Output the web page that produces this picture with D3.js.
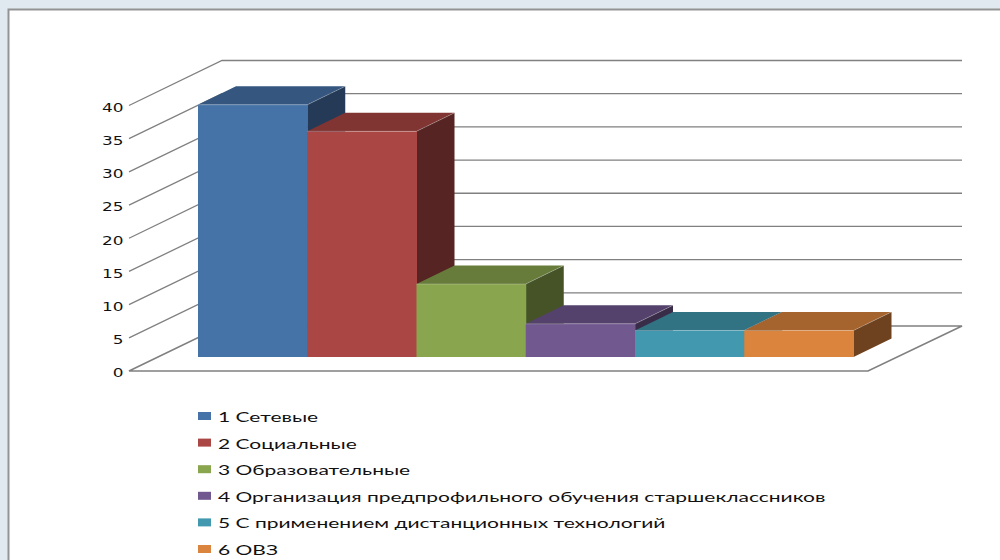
<!DOCTYPE html>
<html>
<head>
<meta charset="utf-8">
<script src="https://cdn.jsdelivr.net/npm/d3@7"></script>
<style>
  html, body { margin: 0; padding: 0; background: #dfe9ef; }
  svg { display: block; }
</style>
</head>
<body>
<svg></svg>
<script>
const categories = ["1 Сетевые", "2 Социальные", "3 Образовательные",
  "4 Организация предпрофильного обучения старшеклассников",
  "5 С применением дистанционных технологий", "6 ОВЗ"];
const values = [38, 34, 11, 5, 4, 4];
const yTicks = [0, 5, 10, 15, 20, 25, 30, 35, 40];
const frontColors = ["#4573a7", "#aa4644", "#89a54e", "#71588f", "#4198af", "#db843d"];
const topColors = ["#34567f", "#803533", "#677c3b", "#55426c", "#317283", "#a5632e"];
const sideColors = ["#253a57", "#562422", "#455327", "#392c48", "#214c58", "#6e421f"];

const width = 1000, height = 560;
const wall = { dx: 93, dy: -45, x0: 129, x1: 868 };
const barDepth = { dx: 38, dy: -18.5 };
const barLift = 14;

const svg = d3.select("svg").attr("width", width).attr("height", height);

// slide panel
svg.append("rect").attr("x", 8.5).attr("y", 9.5).attr("width", 1000).attr("height", 560)
  .attr("fill", "#fff").attr("stroke", "#939393").attr("stroke-width", 2);

const x = d3.scaleBand().domain(categories).range([198, 853.5]);
const y = d3.scaleLinear().domain([0, 40]).range([371, 105.5]);
const legendY = d3.scalePoint().domain(categories).range([416, 549]);

// gridlines on both walls
const grid = svg.append("g").attr("fill", "none").attr("stroke", "#808080").attr("stroke-width", 1.3);
grid.selectAll("path").data(yTicks.filter(d => d > 0)).join("path")
  .attr("d", d => `M${wall.x0},${y(d)}L${wall.x0 + wall.dx},${y(d) + wall.dy}H${wall.x1 + wall.dx + 1}`);

// floor
grid.append("path").attr("stroke-width", 1.6)
  .attr("d", `M${wall.x0},${y(0)}L${wall.x0 + wall.dx},${y(0) + wall.dy}H${wall.x1 + wall.dx + 1}L${wall.x1},${y(0)}Z`);

// bars, left to right so each one covers the side of the previous one
const bars = svg.append("g").selectAll("g").data(categories).join("g");
const x0 = d => x(d);
const x1 = d => x(d) + x.bandwidth();
const base = y(0) - barLift;
const topY = (d, i) => base - (y(0) - y(values[i]));

bars.append("path").attr("fill", (d, i) => topColors[i])
  .attr("d", (d, i) => `M${x0(d)},${topY(d, i)}l${barDepth.dx},${barDepth.dy}H${x1(d) + barDepth.dx}L${x1(d)},${topY(d, i)}Z`);
bars.append("path").attr("fill", (d, i) => sideColors[i])
  .attr("d", (d, i) => `M${x1(d)},${topY(d, i)}l${barDepth.dx},${barDepth.dy}V${base + barDepth.dy}L${x1(d)},${base}Z`);
bars.append("rect").attr("fill", (d, i) => frontColors[i])
  .attr("x", x0).attr("y", topY)
  .attr("width", x.bandwidth() + 0.5).attr("height", (d, i) => base - topY(d, i));
// faint light edges along the top of each bar
bars.append("path").attr("fill", "none").attr("stroke", "#fff").attr("stroke-opacity", 0.3).attr("stroke-width", 0.8)
  .attr("d", (d, i) => `M${x0(d)},${topY(d, i)}H${x1(d)}l${barDepth.dx},${barDepth.dy}`);

// y axis labels
const axis = svg.append("g").attr("transform", "translate(123.5,0)")
  .call(d3.axisLeft(y).tickValues(yTicks).tickSize(0).tickPadding(0));
axis.select(".domain").remove();
axis.selectAll("text")
  .attr("x", 0).attr("dy", "0.45em")
  .attr("transform", "scale(1.3,1)")
  .attr("font-family", "DejaVu Sans").attr("font-size", 13).attr("fill", "#111");

// legend
const legend = svg.append("g").selectAll("g").data(categories).join("g")
  .attr("transform", d => `translate(198,${legendY(d)})`);
legend.append("rect").attr("y", -4).attr("width", 13).attr("height", 8)
  .attr("fill", (d, i) => frontColors[i]);
legend.append("text").text(d => d)
  .attr("transform", "translate(20,0.7) scale(1.5,1)")
  .attr("dy", "0.38em")
  .attr("font-family", "Lato, Liberation Sans").attr("font-size", 14).attr("fill", "#111");
</script>
</body>
</html>
